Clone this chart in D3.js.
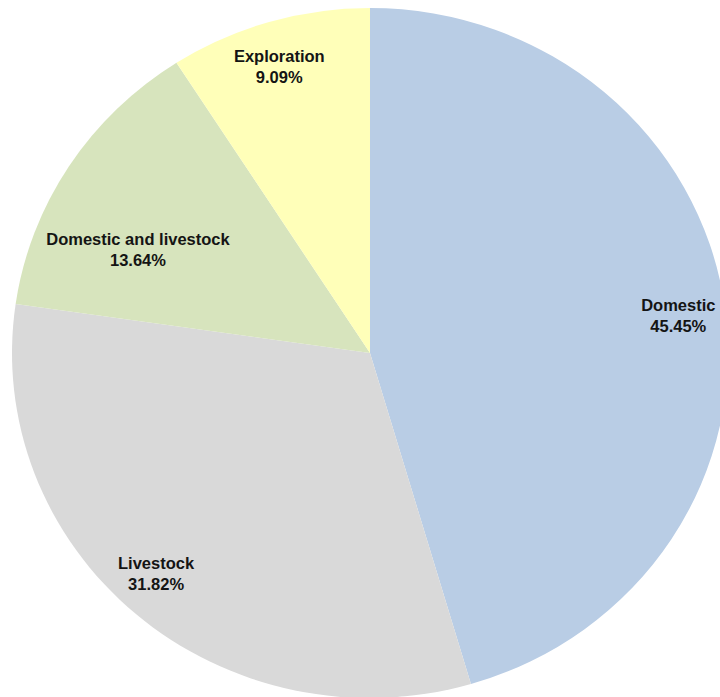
<!DOCTYPE html>
<html>
<head>
<meta charset="utf-8">
<script src="https://cdn.jsdelivr.net/npm/d3@7/dist/d3.min.js"></script>
<style>
  html, body { margin: 0; padding: 0; background: #fff; }
  svg { display: block; }
</style>
</head>
<body>
<div id="chart"></div>
<script>
// Water use categories and their shares (%)
const categories = ["Domestic", "Livestock", "Domestic and livestock", "Exploration"];
const shares = [45.45, 31.82, 13.64, 9.09];
const percentLabels = ["45.45%", "31.82%", "13.64%", "9.09%"];
const sliceColors = ["#B9CDE5", "#D9D9D9", "#D7E4BD", "#FFFFB9"];
// Label offsets (px) from the default label position of each slice
const labelNudgeX = [0, -10, 30, -3];
const labelNudgeY = [5, -7, 58, 1];

const width = 720, height = 697;
const cx = 370, cy = 353;
const ry = 345, rx = 358;          // slightly elliptical pie
const sx = rx / ry;
const labelK = 0.87;

const svg = d3.select("#chart").append("svg")
  .attr("width", width).attr("height", height);

const data = categories.map((c, i) => ({ name: c, value: shares[i], label: percentLabels[i], color: sliceColors[i], i }));

const pie = d3.pie().value(d => d.value).sort(null);
const arcs = pie(data);
const arc = d3.arc().innerRadius(0).outerRadius(ry);

const g = svg.append("g")
  .attr("transform", `translate(${cx},${cy}) scale(${sx},1)`);

g.selectAll("path").data(arcs).join("path")
  .attr("d", arc)
  .attr("fill", d => d.data.color)
  .attr("stroke", "none");

const labels = svg.append("g")
  .attr("font-family", "'Liberation Sans', Arial, sans-serif")
  .attr("font-weight", "bold")
  .attr("font-size", "16.5px")
  .attr("fill", "#141414")
  .attr("text-anchor", "middle");

arcs.forEach(a => {
  const mid = (a.startAngle + a.endAngle) / 2;
  const x = cx + sx * labelK * ry * Math.sin(mid) + labelNudgeX[a.data.i];
  const y = cy - labelK * ry * Math.cos(mid) + labelNudgeY[a.data.i];
  const t = labels.append("text").attr("x", x).attr("y", y);
  t.append("tspan").attr("x", x).attr("y", y - 4).text(a.data.name);
  t.append("tspan").attr("x", x).attr("y", y + 17).text(a.data.label);
});
</script>
</body>
</html>
